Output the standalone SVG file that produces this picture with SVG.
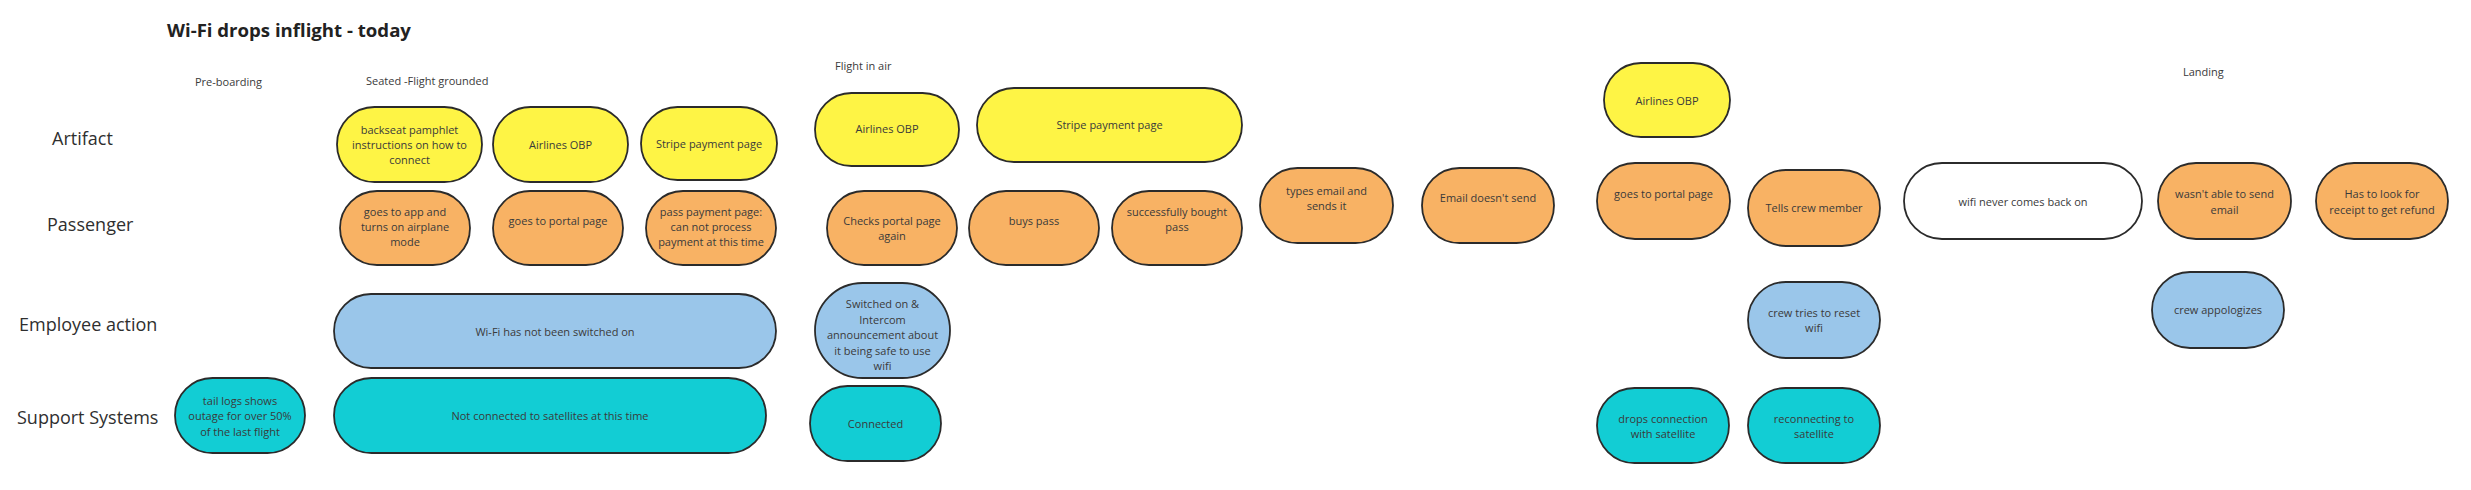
<svg xmlns="http://www.w3.org/2000/svg" width="2471" height="490" viewBox="0 0 2471 490">
<style>
  .bg{fill:#ffffff}
  .n{stroke:#2b2b2b;stroke-width:1.8}
  .y{fill:#fef445}
  .o{fill:#f8b264}
  .b{fill:#9ac6ea}
  .t{fill:#12cdd4}
  .w{fill:#ffffff}
  .lbl{font-family:"Open Sans","Liberation Sans",sans-serif;font-size:11px;fill:#3a3a3a;text-anchor:middle}
  .row{font-family:"Open Sans","Liberation Sans",sans-serif;font-size:18px;fill:#2f2f2f}
  .col{font-family:"Open Sans","Liberation Sans",sans-serif;font-size:11px;fill:#3a3a3a}
  .title{font-family:"Open Sans","Liberation Sans",sans-serif;font-size:18.6px;font-weight:bold;fill:#222222}
</style>
<rect class="bg" x="0" y="0" width="2471" height="490"/>
<text class="title" x="167" y="37">Wi-Fi drops inflight - today</text>
<g id="column-labels">
  <text class="col" x="195" y="86">Pre-boarding</text>
  <text class="col" x="366" y="85">Seated -Flight grounded</text>
  <text class="col" x="835" y="69.5">Flight in air</text>
  <text class="col" x="2183" y="76">Landing</text>
</g>
<g id="row-labels">
  <text class="row" x="52" y="145">Artifact</text>
  <text class="row" x="47" y="231">Passenger</text>
  <text class="row" x="19" y="330.5">Employee action</text>
  <text class="row" x="17" y="424">Support Systems</text>
</g>
<g id="connectors"></g>
<g id="n1"><rect class="n y" x="337" y="107" width="145" height="75" rx="37.5"/><text class="lbl" x="409.5"><tspan x="409.5" y="133.5">backseat pamphlet</tspan><tspan x="409.5" y="148.5">instructions on how to</tspan><tspan x="409.5" y="164">connect</tspan></text></g>
<g id="n2"><rect class="n y" x="493" y="107" width="135" height="75" rx="37.5"/><text class="lbl" x="560.5" y="148.7">Airlines OBP</text></g>
<g id="n3"><rect class="n y" x="641" y="107" width="136" height="73" rx="36.5"/><text class="lbl" x="709" y="147.7">Stripe payment page</text></g>
<g id="n4"><rect class="n y" x="815" y="93" width="144" height="73" rx="36.5"/><text class="lbl" x="887" y="133">Airlines OBP</text></g>
<g id="n5"><rect class="n y" x="977" y="88" width="265" height="74" rx="37"/><text class="lbl" x="1109.5" y="129">Stripe payment page</text></g>
<g id="n6"><rect class="n y" x="1604" y="63" width="126" height="74" rx="37"/><text class="lbl" x="1667" y="104.7">Airlines OBP</text></g>
<g id="n7"><rect class="n o" x="340" y="191" width="130" height="74" rx="37"/><text class="lbl"><tspan x="405" y="216">goes to app and</tspan><tspan x="405" y="231">turns on airplane</tspan><tspan x="405" y="246">mode</tspan></text></g>
<g id="n8"><rect class="n o" x="493" y="191" width="130" height="74" rx="37"/><text class="lbl" x="558" y="225">goes to portal page</text></g>
<g id="n9"><rect class="n o" x="646" y="191" width="130" height="74" rx="37"/><text class="lbl"><tspan x="711" y="216">pass payment page:</tspan><tspan x="711" y="231">can not process</tspan><tspan x="711" y="246">payment at this time</tspan></text></g>
<g id="n10"><rect class="n o" x="827" y="191" width="130" height="74" rx="37"/><text class="lbl"><tspan x="892" y="225">Checks portal page</tspan><tspan x="892" y="240">again</tspan></text></g>
<g id="n11"><rect class="n o" x="969" y="191" width="130" height="74" rx="37"/><text class="lbl" x="1034" y="225">buys pass</text></g>
<g id="n12"><rect class="n o" x="1112" y="191" width="130" height="74" rx="37"/><text class="lbl"><tspan x="1177" y="216">successfully bought</tspan><tspan x="1177" y="231">pass</tspan></text></g>
<g id="n13"><rect class="n o" x="1260" y="168" width="133" height="75" rx="37.5"/><text class="lbl"><tspan x="1326.5" y="195">types email and</tspan><tspan x="1326.5" y="210">sends it</tspan></text></g>
<g id="n14"><rect class="n o" x="1422" y="168" width="132" height="75" rx="37.5"/><text class="lbl" x="1488" y="202">Email doesn't send</text></g>
<g id="n15"><rect class="n o" x="1597" y="163" width="133" height="76" rx="38"/><text class="lbl" x="1663.5" y="198">goes to portal page</text></g>
<g id="n16"><rect class="n o" x="1748" y="170" width="132" height="76" rx="38"/><text class="lbl" x="1814" y="212">Tells crew member</text></g>
<g id="n17"><rect class="n w" x="1904" y="163" width="238" height="76" rx="38"/><text class="lbl" x="2023" y="206">wifi never comes back on</text></g>
<g id="n18"><rect class="n o" x="2158" y="163" width="133" height="76" rx="38"/><text class="lbl"><tspan x="2224.5" y="198">wasn't able to send</tspan><tspan x="2224.5" y="214">email</tspan></text></g>
<g id="n19"><rect class="n o" x="2316" y="163" width="132" height="76" rx="38"/><text class="lbl"><tspan x="2382" y="198">Has to look for</tspan><tspan x="2382" y="214">receipt to get refund</tspan></text></g>
<g id="n20"><rect class="n b" x="334" y="294" width="442" height="74" rx="37"/><text class="lbl" x="555" y="335.7">Wi-Fi has not been switched on</text></g>
<g id="n21"><rect class="n b" x="815" y="283" width="135" height="95" rx="47.5"/><text class="lbl"><tspan x="882.5" y="308.3">Switched on &amp;</tspan><tspan x="882.5" y="324">Intercom</tspan><tspan x="882.5" y="339.3">announcement about</tspan><tspan x="882.5" y="354.7">it being safe to use</tspan><tspan x="882.5" y="370">wifi</tspan></text></g>
<g id="n22"><rect class="n b" x="1748" y="282" width="132" height="76" rx="38"/><text class="lbl"><tspan x="1814" y="316.7">crew tries to reset</tspan><tspan x="1814" y="332">wifi</tspan></text></g>
<g id="n23"><rect class="n b" x="2152" y="272" width="132" height="76" rx="38"/><text class="lbl" x="2218" y="314">crew appologizes</text></g>
<g id="n24"><rect class="n t" x="175" y="378" width="130" height="75" rx="37.5"/><text class="lbl"><tspan x="240" y="405">tail logs shows</tspan><tspan x="240" y="420.3">outage for over 50%</tspan><tspan x="240" y="435.7">of the last flight</tspan></text></g>
<g id="n25"><rect class="n t" x="334" y="378" width="432" height="75" rx="37.5"/><text class="lbl" x="550" y="420">Not connected to satellites at this time</text></g>
<g id="n26"><rect class="n t" x="810" y="386" width="131" height="75" rx="37.5"/><text class="lbl" x="875.5" y="427.7">Connected</text></g>
<g id="n27"><rect class="n t" x="1597" y="388" width="132" height="75" rx="37.5"/><text class="lbl"><tspan x="1663" y="422.7">drops connection</tspan><tspan x="1663" y="438">with satellite</tspan></text></g>
<g id="n28"><rect class="n t" x="1748" y="388" width="132" height="75" rx="37.5"/><text class="lbl"><tspan x="1814" y="422.7">reconnecting to</tspan><tspan x="1814" y="438">satellite</tspan></text></g>
</svg>
